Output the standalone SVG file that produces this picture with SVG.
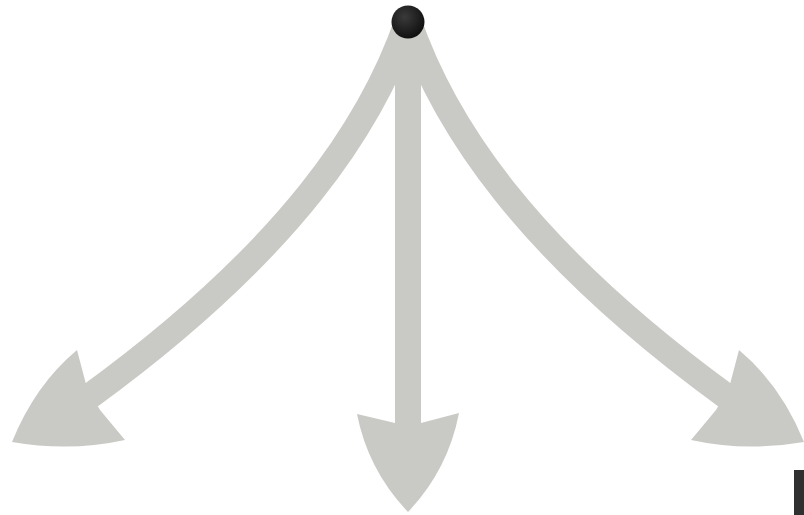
<svg xmlns="http://www.w3.org/2000/svg" width="804" height="515" viewBox="0 0 804 515">
  <style>
    .shaft { fill: none; stroke: #c9c9c5; stroke-width: 26; stroke-linecap: butt; }
    .head { fill: #c9c9c5; stroke: none; }
  </style>
  <defs>
    <radialGradient id="dotGrad" cx="0.4" cy="0.35" r="0.7">
      <stop offset="0" stop-color="#3a3a3a"/>
      <stop offset="1" stop-color="#0d0d0d"/>
    </radialGradient>
  </defs>
  <rect width="804" height="515" fill="#ffffff"/>
  <g id="connectors">
    <path class="shaft" d="M408,20 C372,125 290,250 90,396"/>
    <path class="shaft" d="M408,20 L408,428"/>
    <path class="shaft" d="M408,20 C444,125 526,250 726,396"/>
    <path class="head" d="M77,350 L87,388 L100,410 L125,440 Q70,452 12,442 Q35,385 77,350 Z"/>
    <path class="head" d="M357,414 L395,423 L421,423 L459,413 Q448,470 408,512 Q368,470 357,414 Z"/>
    <path class="head" d="M739,350 L729,388 L716,410 L691,440 Q746,452 804,442 Q781,385 739,350 Z"/>
  </g>
  <g id="source">
    <circle cx="408" cy="22" r="16.5" fill="url(#dotGrad)"/>
  </g>
  <g id="corner-mark">
    <rect x="794" y="470" width="10" height="45" fill="#303030"/>
  </g>
</svg>
